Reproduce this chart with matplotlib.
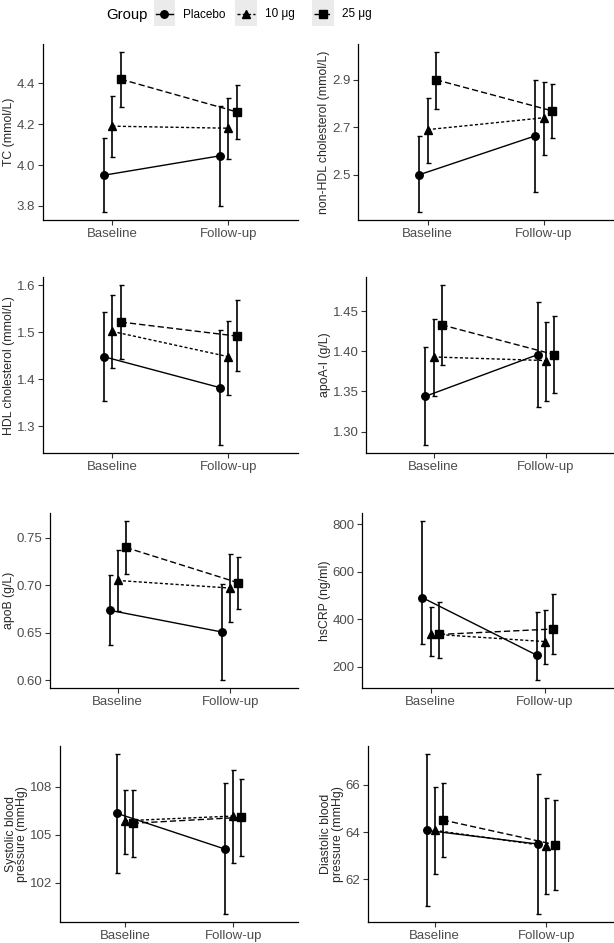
import matplotlib
matplotlib.use("Agg")
import matplotlib.pyplot as plt
from matplotlib.patches import Rectangle

plt.rcParams['font.family'] = ['Liberation Sans', 'DejaVu Sans']

time_labels = ["Baseline", "Follow-up"]
groups = ["Placebo", "10 μg", "25 μg"]
markers = ["o", "^", "s"]
linestyles = ["-", (0, (2.2, 1.6)), (0, (4.5, 2.2))]

# mean, lower, upper per group (rows: Placebo, 10, 25; cols: baseline, follow-up)
tc_mean = [[3.95, 4.045], [4.19, 4.18], [4.42, 4.26]]
tc_low = [[3.77, 3.80], [4.04, 4.03], [4.285, 4.125]]
tc_high = [[4.13, 4.288], [4.336, 4.33], [4.553, 4.39]]

nonhdl_mean = [[2.50, 2.664], [2.69, 2.74], [2.90, 2.769]]
nonhdl_low = [[2.343, 2.429], [2.55, 2.584], [2.777, 2.655]]
nonhdl_high = [[2.662, 2.90], [2.824, 2.892], [3.017, 2.883]]

hdl_mean = [[1.448, 1.382], [1.502, 1.448], [1.522, 1.492]]
hdl_low = [[1.353, 1.259], [1.423, 1.367], [1.443, 1.417]]
hdl_high = [[1.543, 1.506], [1.580, 1.524], [1.601, 1.568]]

apoa_mean = [[1.344, 1.396], [1.393, 1.3885], [1.433, 1.396]]
apoa_low = [[1.283, 1.331], [1.345, 1.3376], [1.3827, 1.348]]
apoa_high = [[1.406, 1.461], [1.440, 1.437], [1.4826, 1.4436]]

apob_mean = [[0.6736, 0.6507], [0.7049, 0.6969], [0.7396, 0.7024]]
apob_low = [[0.6368, 0.600], [0.6729, 0.6608], [0.7118, 0.6753]]
apob_high = [[0.7108, 0.701], [0.7372, 0.7326], [0.7677, 0.7292]]

crp_mean = [[491, 249], [338, 306], [336, 359]]
crp_low = [[297, 143], [247, 213], [239, 253]]
crp_high = [[815, 430], [452, 437], [471, 508]]

sbp_mean = [[106.33, 104.09], [105.87, 106.16], [105.71, 106.08]]
sbp_low = [[102.61, 100.02], [103.80, 103.21], [103.61, 103.67]]
sbp_high = [[110.04, 108.22], [107.82, 109.03], [107.80, 108.49]]

dbp_mean = [[64.07, 63.49], [64.07, 63.41], [64.51, 63.47]]
dbp_low = [[60.88, 60.52], [62.23, 61.38], [62.95, 61.54]]
dbp_high = [[67.30, 66.47], [65.91, 65.45], [66.09, 65.36]]

panels = [
    ("TC (mmol/L)", tc_mean, tc_low, tc_high, [3.8, 4.0, 4.2, 4.4], "%.1f"),
    ("non-HDL cholesterol (mmol/L)", nonhdl_mean, nonhdl_low, nonhdl_high, [2.5, 2.7, 2.9], "%.1f"),
    ("HDL cholesterol (mmol/L)", hdl_mean, hdl_low, hdl_high, [1.3, 1.4, 1.5, 1.6], "%.1f"),
    ("apoA-I (g/L)", apoa_mean, apoa_low, apoa_high, [1.30, 1.35, 1.40, 1.45], "%.2f"),
    ("apoB (g/L)", apob_mean, apob_low, apob_high, [0.60, 0.65, 0.70, 0.75], "%.2f"),
    ("hsCRP (ng/ml)", crp_mean, crp_low, crp_high, [200, 400, 600, 800], "%d"),
    ("Systolic blood\npressure (mmHg)", sbp_mean, sbp_low, sbp_high, [102, 105, 108], "%d"),
    ("Diastolic blood\npressure (mmHg)", dbp_mean, dbp_low, dbp_high, [62, 64, 66], "%d"),
]

W, H = 614, 943
# panel boxes in pixels: left, top, right, bottom
boxes = [
    (42.7, 44, 298, 220), (358, 44, 613.5, 220),
    (42.7, 277, 298, 453.3), (366, 277, 613.5, 453.3),
    (50, 512.7, 298, 688.3), (362, 512.7, 613.5, 688.3),
    (60, 746, 298, 922.3), (367.7, 746, 613.5, 922.3),
]
dodge = [-0.072, 0.0, 0.072]

fig = plt.figure(figsize=(W / 100, H / 100), dpi=100)

for (ylabel, mean, low, high, ticks, fmt), (l, t, r, b) in zip(panels, boxes):
    ax = fig.add_axes([l / W, 1 - b / H, (r - l) / W, (b - t) / H])
    for g in range(3):
        xs = [1 + dodge[g], 2 + dodge[g]]
        yerr = [[mean[g][i] - low[g][i] for i in range(2)],
                [high[g][i] - mean[g][i] for i in range(2)]]
        ax.errorbar(xs, mean[g], yerr=yerr, fmt="none", ecolor="black",
                    elinewidth=1.2, capsize=1.8, capthick=1.0, zorder=2)
        ax.plot(xs, mean[g], color="black", linestyle=linestyles[g],
                linewidth=1.0, zorder=3)
        ax.plot(xs, mean[g], linestyle="none", marker=markers[g],
                color="black", markersize=5.4, zorder=4)
    lo = min(min(v) for v in low)
    hi = max(max(v) for v in high)
    pad = 0.05 * (hi - lo)
    ax.set_ylim(lo - pad, hi + pad)
    ax.set_xlim(0.4, 2.6)
    ax.set_xticks([1, 2])
    ax.set_xticklabels(time_labels)
    ax.set_yticks(ticks)
    ax.set_yticklabels([fmt % v for v in ticks])
    ax.set_ylabel(ylabel, fontsize=8.8, color="#262626", labelpad=1.2,
                  linespacing=0.95)
    for side in ["top", "right"]:
        ax.spines[side].set_visible(False)
    for side in ["left", "bottom"]:
        ax.spines[side].set_linewidth(0.9)
    ax.tick_params(axis="both", colors="#333333", labelcolor="#4D4D4D",
                   labelsize=9.5, length=3.5, width=0.8, pad=2)

# legend strip
leg = fig.add_axes([0, 1 - 32 / H, 1, 32 / H])
leg.set_xlim(0, W)
leg.set_ylim(32, 0)
leg.axis("off")
leg.text(106.5, 14.5, "Group", fontsize=10.7, va="center", ha="left", color="black")
key_x = [153.7, 235.3, 312.3]
for g in range(3):
    kx = key_x[g]
    leg.add_patch(Rectangle((kx, 0), 21.3, 26, facecolor="#EBEBEB", edgecolor="none"))
    leg.plot([kx + 2, kx + 19.3], [13.5, 13.5], color="black",
             linestyle=linestyles[g], linewidth=1.0)
    leg.plot([kx + 10.65], [13.5], marker=markers[g], color="black",
             markersize=5.4, linestyle="none")
    leg.text(kx + 29.5, 14.5, groups[g], fontsize=8.5, va="center", ha="left",
             color="black")

fig.savefig("out.png", dpi=100)
